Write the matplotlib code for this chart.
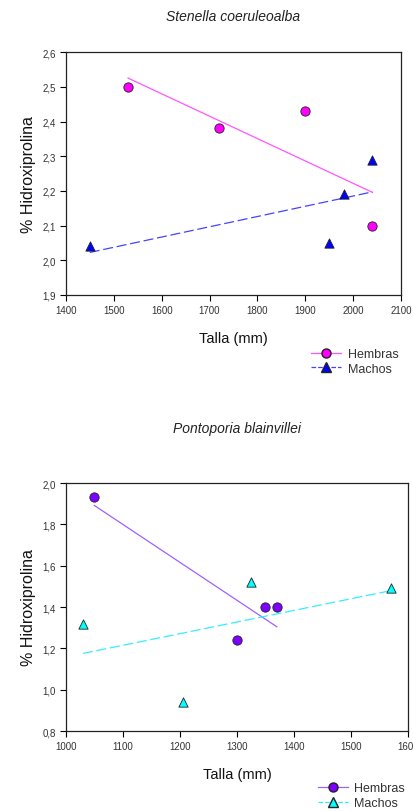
import numpy as np
import matplotlib
matplotlib.use("Agg")
from matplotlib import pyplot as plt
from matplotlib.lines import Line2D
from matplotlib.ticker import FuncFormatter

plt.rcParams['font.family'] = ['Liberation Sans', 'DejaVu Sans']

# Stenella coeruleoalba
sc_hembras_talla = [1530, 1720, 1900, 2040]
sc_hembras_hyp = [2.50, 2.38, 2.43, 2.10]
sc_machos_talla = [1450, 1950, 1980, 2040]
sc_machos_hyp = [2.04, 2.05, 2.19, 2.29]
sc_xticks = [1400, 1500, 1600, 1700, 1800, 1900, 2000, 2100]
sc_yticks = [1.9, 2.0, 2.1, 2.2, 2.3, 2.4, 2.5, 2.6]

# Pontoporia blainvillei
pb_hembras_talla = [1050, 1300, 1350, 1370]
pb_hembras_hyp = [1.93, 1.24, 1.40, 1.40]
pb_machos_talla = [1030, 1205, 1325, 1570]
pb_machos_hyp = [1.32, 0.94, 1.52, 1.49]
pb_xticks = [1000, 1100, 1200, 1300, 1400, 1500, 1600]
pb_yticks = [0.8, 1.0, 1.2, 1.4, 1.6, 1.8, 2.0]

comma = FuncFormatter(lambda v, p: ("%.1f" % v).replace(".", ","))


def panel(ax, title, title_y, fem, mal, xticks, yticks, fem_style, mal_style):
    for (xs, ys), st in ((fem, fem_style), (mal, mal_style)):
        xs = np.array(xs, float)
        ys = np.array(ys, float)
        # least-squares trend line over the range of the group
        m, b = np.polyfit(xs, ys, 1)
        xl = np.array([xs.min(), xs.max()])
        ln, = ax.plot(xl, m * xl + b, color=st['line'], lw=0.9, zorder=2)
        if 'dashes' in st:
            ln.set_dashes(st['dashes'])
        ax.scatter(xs, ys, s=45, marker=st['marker'], c=st['face'],
                   edgecolors='#222222', linewidths=0.6, zorder=3)
    ax.set_xlim(xticks[0], xticks[-1])
    ax.set_ylim(yticks[0], yticks[-1])
    ax.set_xticks(xticks)
    ax.set_yticks(yticks)
    ax.yaxis.set_major_formatter(comma)
    ax.tick_params(direction='out', length=4, width=0.8, labelsize=7,
                   labelcolor='#333333', pad=3)
    for s in ax.spines.values():
        s.set_linewidth(0.9)
        s.set_color('#222222')
    ax.set_xlabel('Talla (mm)', fontsize=10.5, labelpad=12, color='#111111')
    ax.set_ylabel('% Hidroxiprolina', fontsize=11.5, labelpad=5, color='#111111')
    pos = ax.get_position()
    ax.figure.text((pos.x0 + pos.x1) / 2, title_y, title, fontsize=10,
                   style='italic', color='#222222', ha='center', va='center')


def legend(fig, anchor, fem_style, mal_style):
    hs = [Line2D([], [], color=fem_style['line'], lw=0.9, ls='-',
                 marker=fem_style['marker'], mfc=fem_style['face'],
                 mec='#222222', ms=6.5),
          Line2D([], [], color=mal_style['line'], lw=0.9, ls='--',
                 marker=mal_style['marker'], mfc=mal_style['face'],
                 mec='#222222', ms=6.5)]
    fig.legend(hs, ['Hembras', 'Machos'], loc='upper left',
               bbox_to_anchor=anchor, frameon=False, fontsize=9,
               handlelength=2.4, handletextpad=0.5, labelspacing=0.2,
               labelcolor='#333333')


fig = plt.figure(figsize=(4.14, 8.12), dpi=100)

sc_f = dict(marker='o', face='#ff00ff', line='#ff55ff')
sc_m = dict(marker='^', face='#0000ff', line='#4444ff', dashes=(8, 3))
ax1 = fig.add_axes([0.159, 0.6355, 0.810, 0.299])
panel(ax1, 'Stenella coeruleoalba', 0.979, (sc_hembras_talla, sc_hembras_hyp),
      (sc_machos_talla, sc_machos_hyp), sc_xticks, sc_yticks, sc_f, sc_m)
legend(fig, (0.725, 0.584), sc_f, sc_m)

pb_f = dict(marker='o', face='#7f00ff', line='#a060ff')
pb_m = dict(marker='^', face='#00ffff', line='#33eeff', dashes=(8, 3))
ax2 = fig.add_axes([0.159, 0.0985, 0.8265, 0.3054])
panel(ax2, 'Pontoporia blainvillei', 0.4717, (pb_hembras_talla, pb_hembras_hyp),
      (pb_machos_talla, pb_machos_hyp), pb_xticks, pb_yticks, pb_f, pb_m)
legend(fig, (0.74, 0.049), pb_f, pb_m)

fig.savefig('out.png', dpi=100)
